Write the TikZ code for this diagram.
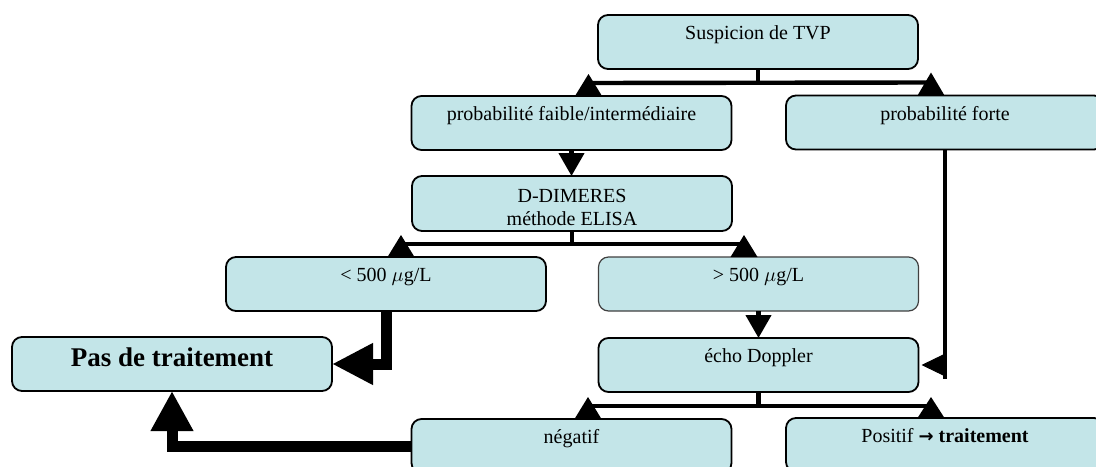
\documentclass[tikz,border=0pt]{standalone}
\usepackage{fontspec}
\setmainfont{Liberation Serif}
\newfontfamily\arrowfont{DejaVu Sans}
\usetikzlibrary{arrows.meta,calc}
\definecolor{boxfill}{RGB}{195,229,232}
\begin{document}
\begin{tikzpicture}[x=0.5pt,y=-0.5pt,
  basebox/.style={draw=black, line width=0.9pt, fill=boxfill, rounded corners=5pt,
    minimum width=160pt, minimum height=27pt, inner sep=0pt, outer sep=0pt},
  box/.style={basebox, font=\fontsize{10}{12}\selectfont, text height=7pt, text depth=9.5pt},
  twobox/.style={basebox, font=\fontsize{10}{11.5}\selectfont, align=center},
  bigbox/.style={basebox, font=\bfseries\fontsize{13.5}{16}\selectfont, text height=9pt, text depth=7pt},
  wire/.style={line width=2.2pt},
  fat/.style={line width=5.5pt, line join=miter},
  tipdown/.style={-{Triangle[length=11.5pt,width=12.5pt]}},
]
\useasboundingbox (0,0) rectangle (1096,466);
\clip (0,0) rectangle (1096,466);

% boxes
\node[box] (tvp) at (758,42) {Suspicion de TVP};
\node[box] (low) at (571.5,123) {probabilité faible/intermédiaire};
\node[box, minimum width=159pt] (high) at (945,122.5) {probabilité forte};
\node[twobox, minimum height=27.5pt] (dd) at (572,203.5) {\rule{0pt}{10.5pt}D-DIMERES\\méthode ELISA};
\node[box] (lt) at (386,284) {< 500 $\mu$g/L};
\node[box, draw=black!75, line width=0.6pt] (gt) at (758.5,284) {> 500 $\mu$g/L};
\node[box] (echo) at (758.5,365) {écho Doppler};
\node[bigbox] (pas) at (172,364) {Pas de traitement};
\node[box] (neg) at (571.5,446) {négatif};
\node[box, minimum width=159pt] (pos) at (945,445) {Positif {\arrowfont\bfseries\fontsize{9}{12}\selectfont →} \textbf{traitement}};

% Suspicion -> probabilities
\draw[wire] (tvp.south) -- ++(0,14);
\draw[wire] ($(low.north)+(16.5,-13)$) -- ($(high.north)+(-14,-13)$);
\fill ($(low.north)+(3.5,0)$) -- ++(27,0) -- ++(-13.5,-22) -- cycle;
\fill ($(high.north)+(-27.5,0)$) -- ++(27,0) -- ++(-13.5,-23) -- cycle;

% low -> D-dimeres
\draw[wire, tipdown] (low.south) -- (low.south |- dd.north);

% D-dimeres -> thresholds
\draw[wire] (dd.south) -- ++(0,13);
\draw[wire] ($(lt.north)+(15,-13)$) -- ($(gt.north)+(-14.5,-13)$);
\fill ($(lt.north)+(1.5,0)$) -- ++(27,0) -- ++(-13.5,-22) -- cycle;
\fill ($(gt.north)+(-28,0)$) -- ++(27,0) -- ++(-13.5,-22) -- cycle;

% > 500 -> echo
\draw[wire, tipdown] (gt.south) -- (gt.south |- echo.north);

% high -> echo
\draw[wire] (high.south) -- ++(0,229);
\draw[line width=0.5pt, -{Triangle[length=12.5pt,width=12pt]}] ([xshift=0.5pt]high.south |- echo.east) -- ([xshift=1.5pt]echo.east);

% echo -> results
\draw[wire] (echo.south) -- ++(0,13);
\draw[wire] ($(neg.north)+(16.5,-13)$) -- ($(pos.north)+(-14,-12)$);
\fill ($(neg.north)+(3,0)$) -- ++(27,0) -- ++(-13.5,-22) -- cycle;
\fill ($(pos.north)+(-27.5,0)$) -- ++(27,0) -- ++(-13.5,-21) -- cycle;

% to "Pas de traitement"
\draw[fat, -{Triangle[length=20.5pt,width=19.5pt]}] (lt.south) |- (pas.east);
\draw[fat, -{Triangle[length=20pt,width=20pt]}] (neg.west) -| (pas.south);
\end{tikzpicture}
\end{document}
